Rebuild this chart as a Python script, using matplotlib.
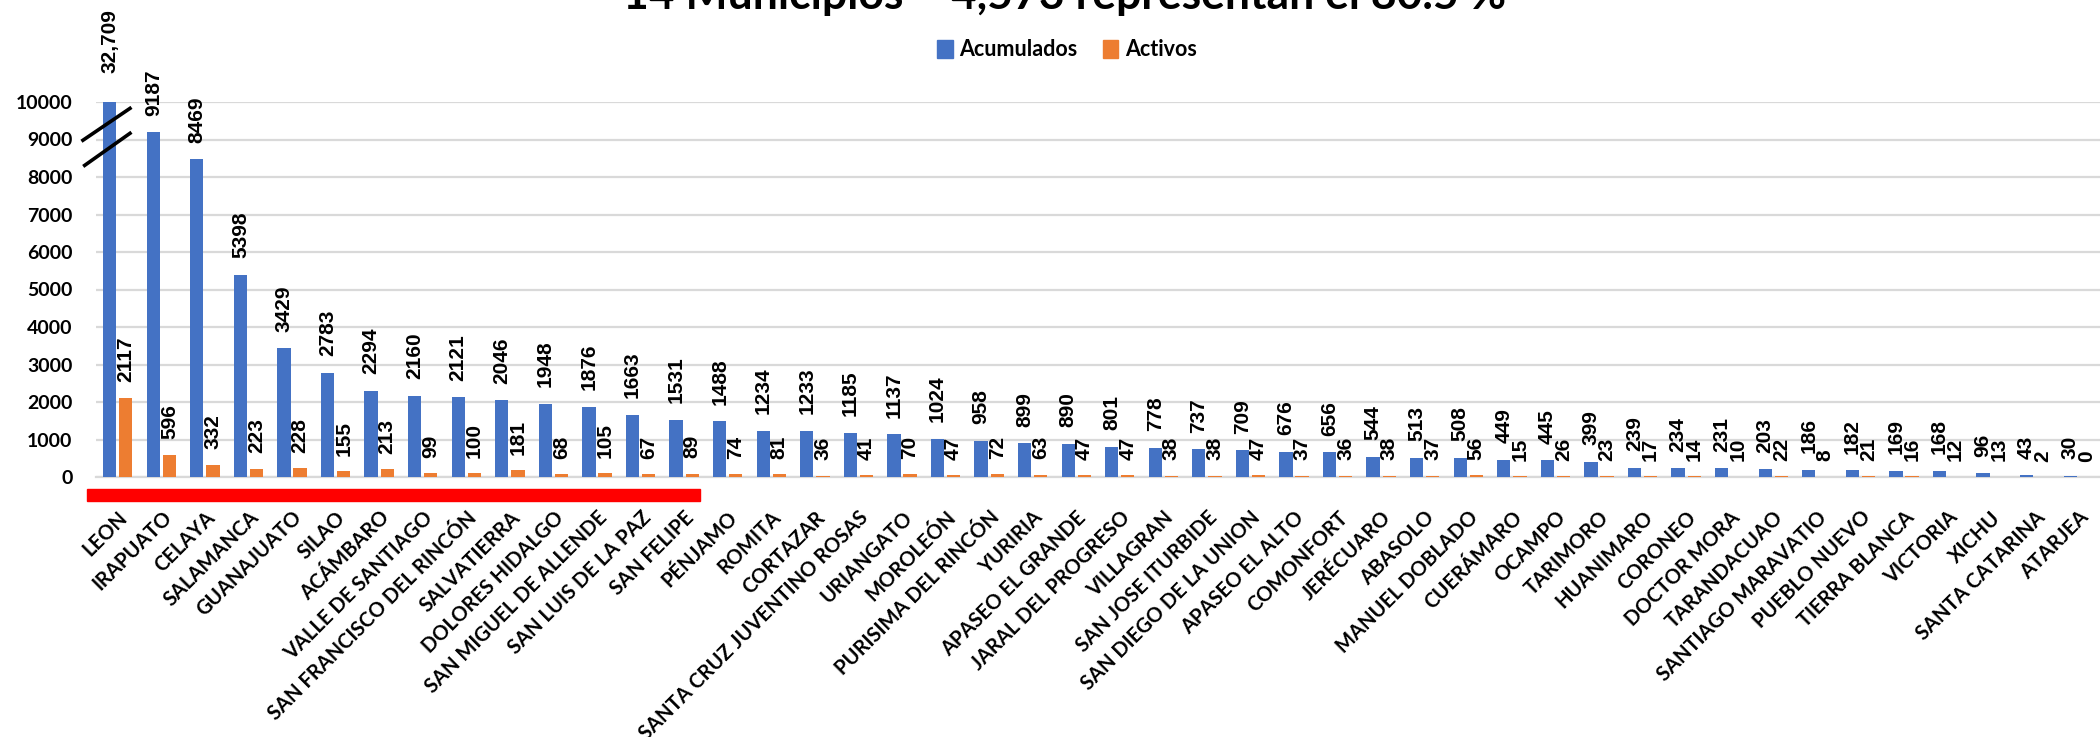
import matplotlib
matplotlib.use('Agg')
import matplotlib.pyplot as plt
from matplotlib.lines import Line2D
from matplotlib.patches import Rectangle, Patch
import matplotlib.transforms as mtransforms
import numpy as np

# ---- Data ----
municipios = [
    'LEON', 'IRAPUATO', 'CELAYA', 'SALAMANCA', 'GUANAJUATO', 'SILAO', 'ACÁMBARO',
    'VALLE DE SANTIAGO', 'SAN FRANCISCO DEL RINCÓN', 'SALVATIERRA', 'DOLORES HIDALGO',
    'SAN MIGUEL DE ALLENDE', 'SAN LUIS DE LA PAZ', 'SAN FELIPE', 'PÉNJAMO', 'ROMITA',
    'CORTAZAR', 'SANTA CRUZ JUVENTINO ROSAS', 'URIANGATO', 'MOROLEÓN',
    'PURISIMA DEL RINCÓN', 'YURIRIA', 'APASEO EL GRANDE', 'JARAL DEL PROGRESO',
    'VILLAGRAN', 'SAN JOSE ITURBIDE', 'SAN DIEGO DE LA UNION', 'APASEO EL ALTO',
    'COMONFORT', 'JERÉCUARO', 'ABASOLO', 'MANUEL DOBLADO', 'CUERÁMARO', 'OCAMPO',
    'TARIMORO', 'HUANIMARO', 'CORONEO', 'DOCTOR MORA', 'TARANDACUAO',
    'SANTIAGO MARAVATIO', 'PUEBLO NUEVO', 'TIERRA BLANCA', 'VICTORIA', 'XICHU',
    'SANTA CATARINA', 'ATARJEA',
]
acumulados = [32709, 9187, 8469, 5398, 3429, 2783, 2294, 2160, 2121, 2046, 1948, 1876,
              1663, 1531, 1488, 1234, 1233, 1185, 1137, 1024, 958, 899, 890, 801, 778,
              737, 709, 676, 656, 544, 513, 508, 449, 445, 399, 239, 234, 231, 203, 186,
              182, 169, 168, 96, 43, 30]
activos = [2117, 596, 332, 223, 228, 155, 213, 99, 100, 181, 68, 105, 67, 89, 74, 81,
           36, 41, 70, 47, 72, 63, 47, 47, 38, 38, 47, 37, 36, 38, 37, 56, 15, 26, 23,
           17, 14, 10, 22, 8, 21, 16, 12, 13, 2, 0]
y_max = 10000
n_top = 14
titulo = '14 Municipios = 4,573 representan el 80.5 %'

BLUE = '#4472C4'
ORANGE = '#ED7D31'
GRID = '#D9D9D9'
UI_FONT = 'Lato'
NUM_FONT = 'Liberation Sans'

W, H = 2100, 737
fig = plt.figure(figsize=(W / 100, H / 100), dpi=100)
ax = fig.add_axes([96 / W, 1 - 477 / H, 1 - 96 / W, (477 - 102) / H])

x = np.arange(len(municipios))
bw = 0.305
off = 0.185
ax.bar(x - off, np.minimum(acumulados, y_max), bw, color=BLUE, zorder=3)
ax.bar(x + off, activos, bw, color=ORANGE, zorder=3)

ax.set_xlim(-0.5, len(municipios) - 0.5)
ax.set_ylim(0, y_max)
ax.set_yticks(np.arange(0, y_max + 1, 1000))
ax.yaxis.grid(True, color=GRID, linewidth=1.6, zorder=0)
ax.set_axisbelow(True)
for s in ['top', 'right', 'left']:
    ax.spines[s].set_visible(False)
ax.spines['bottom'].set_color(GRID)
ax.spines['bottom'].set_linewidth(1.6)
ax.tick_params(axis='both', length=0)
ax.tick_params(axis='y', pad=17)
ax.tick_params(axis='x', pad=27)
for lab in ax.get_yticklabels():
    lab.set_fontfamily(UI_FONT)
    lab.set_fontweight('bold')
    lab.set_fontsize(14)

ax.set_xticks(x)
ax.set_xticklabels(municipios, rotation=45, ha='right', va='center',
                   rotation_mode='anchor', fontfamily=UI_FONT, fontweight='bold',
                   fontsize=14.5)
shift = mtransforms.ScaledTranslation(5 / 72, 0, fig.dpi_scale_trans)
for lab in ax.get_xticklabels():
    lab.set_transform(lab.get_transform() + shift)

# ---- value labels ----
for i, v in enumerate(acumulados):
    txt = f'{v:,}' if v > y_max else str(v)
    extra = 21 if v > y_max else 12
    ax.annotate(txt, (x[i] - off, min(v, y_max)), xytext=(0, extra),
                textcoords='offset points', rotation=90, ha='center', va='bottom',
                fontsize=15, fontweight='bold', family=NUM_FONT,
                annotation_clip=False)
for i, v in enumerate(activos):
    ax.annotate(str(v), (x[i] + off, v), xytext=(0, 11),
                textcoords='offset points', rotation=90, ha='center', va='bottom',
                fontsize=15, fontweight='bold', family=NUM_FONT,
                annotation_clip=False)

# ---- axis break marks ----
for (x0, y0, x1, y1) in [(-0.80, 8980, 0.28, 9830), (-0.76, 8310, 0.28, 9165)]:
    ax.add_line(Line2D([x0, x1], [y0, y1], color='black', linewidth=2.6,
                       clip_on=False, zorder=5))

# ---- red bar marking top municipalities ----
trans = mtransforms.blended_transform_factory(ax.transData, fig.transFigure)
ax.add_patch(Rectangle((-0.71, 1 - 501 / H), n_top + 0.08, 12 / H, transform=trans,
                       color='#FF0000', clip_on=False, zorder=5))

# ---- title (partly outside top edge, as in source) ----
fig.text(0.507, 1 - 9 / H, titulo, ha='center', va='baseline',
         fontsize=32, fontweight='bold', family=UI_FONT)

# ---- legend ----
handles = [Patch(color=BLUE, label='Acumulados'), Patch(color=ORANGE, label='Activos')]
fig.legend(handles=handles, loc='center', bbox_to_anchor=(1067 / W, 1 - 50 / H),
           ncol=2, frameon=False, handlelength=0.7, handleheight=0.9,
           handletextpad=0.3, columnspacing=1.2,
           prop={'family': UI_FONT, 'weight': 'bold', 'size': 15.5})

fig.savefig('out.png', dpi=100)
